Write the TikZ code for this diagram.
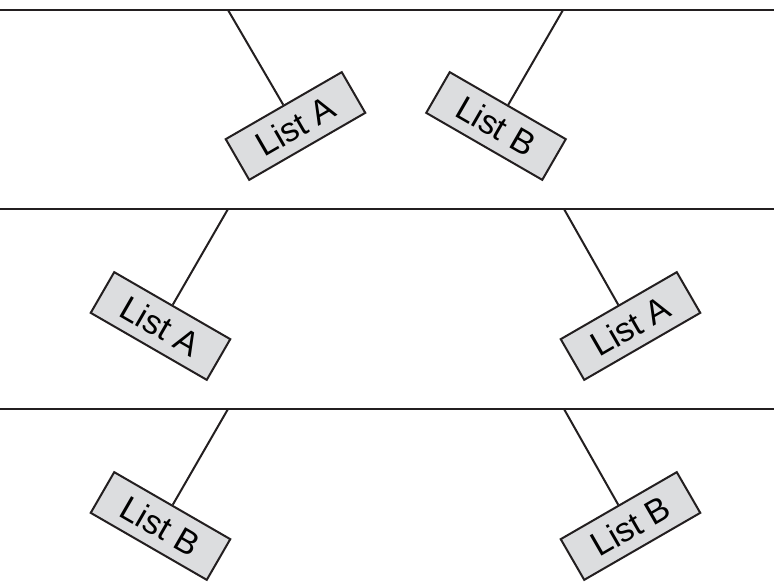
\documentclass[tikz,border=0pt]{standalone}
\usepackage{fontspec}
\setmainfont{Liberation Sans}
\definecolor{rulegray}{HTML}{231F20}
\definecolor{tagfill}{HTML}{DCDDDF}
\begin{document}
\begin{tikzpicture}[x=1pt,y=-1pt,
  shelf/.style={draw=rulegray,line width=2.8pt},
  hanger/.style={draw=rulegray,line width=2pt},
  tag/.style={draw=rulegray,line width=2pt,fill=tagfill,
    minimum width=134pt,minimum height=47pt,inner sep=0pt,
    font=\fontsize{34}{34}\selectfont,text=black}]
  \useasboundingbox (0,0) rectangle (774,583);

  % three horizontal rails
  \foreach \y/\n in {10/r1,209/r2,409/r3}{
    \coordinate (\n w) at (0,\y);
    \coordinate (\n e) at (774,\y);
    \draw[shelf] (\n w) -- (\n e);
  }

  % hanging points on the rails
  \coordinate (h1a) at (228,10);
  \coordinate (h1b) at (563,10);
  \coordinate (h2a) at (228,209);
  \coordinate (h2b) at (564,209);
  \coordinate (h3a) at (228,409);
  \coordinate (h3b) at (564,409);

  % tags
  \node[tag,rotate=30]  (t1a) at (295.5,126) {List A};
  \node[tag,rotate=-30] (t1b) at (496,126)   {List B};
  \node[tag,rotate=-30] (t2a) at (160.5,326) {List A};
  \node[tag,rotate=30]  (t2b) at (630.5,326) {List A};
  \node[tag,rotate=-30] (t3a) at (160.5,526) {List B};
  \node[tag,rotate=30]  (t3b) at (630.5,526) {List B};

  % strings
  \foreach \n in {1a,1b,2a,2b,3a,3b}{
    \draw[hanger] (h\n) -- (t\n.north);
  }
\end{tikzpicture}
\end{document}
